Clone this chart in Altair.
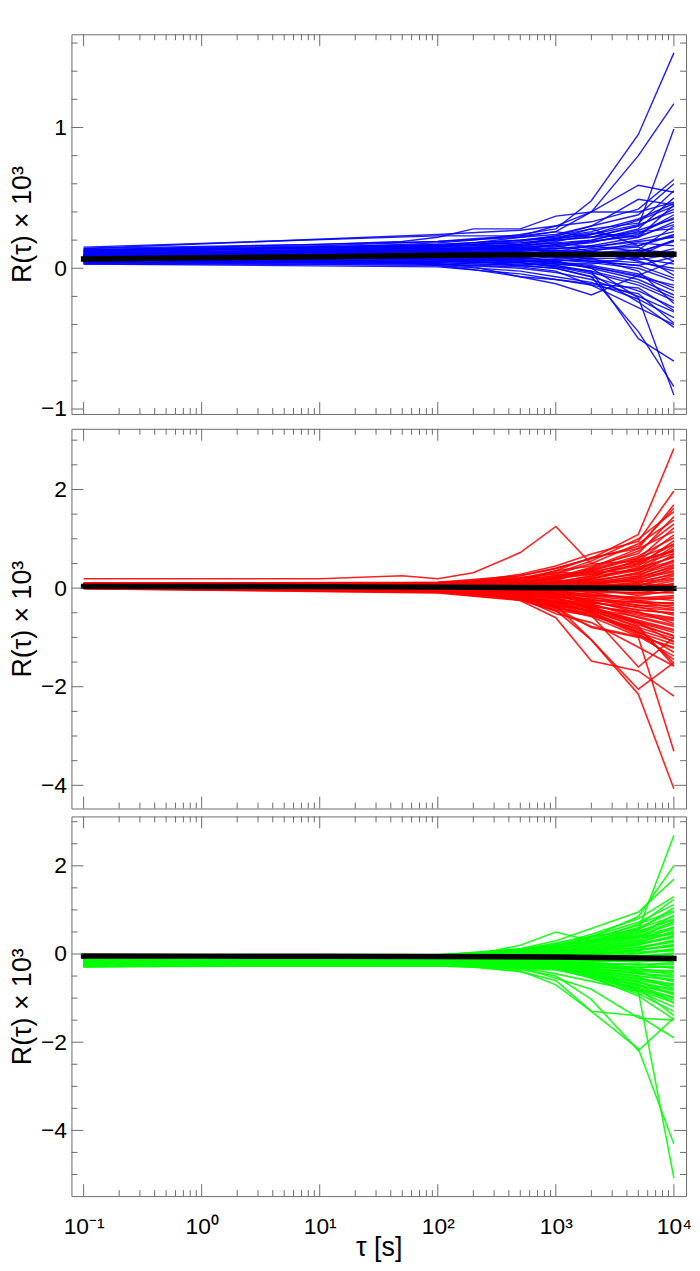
import altair as alt
import pandas as pd

# ---------------- data (units of 1e-3) ----------------
XF = [0.1, 10, 50, 100, 200, 500, 1000, 2000, 5000, 10000]      # grid of outlier lines
XC = [0.1, 100, 500, 1000, 2000, 5000, 10000]                    # grid of core lines
XM = [0.1, 1, 10, 100, 1000, 10000]                              # grid of mean lines

blue_core = [
    [0.14, 0.24, 0.27, 0.30, 0.33, 0.42, 0.63], [0.13, 0.19, 0.22, 0.24, 0.30, 0.38, 0.60],
    [0.12, 0.17, 0.20, 0.22, 0.26, 0.35, 0.46], [0.11, 0.16, 0.18, 0.20, 0.22, 0.30, 0.42],
    [0.10, 0.15, 0.17, 0.21, 0.25, 0.22, 0.33], [0.10, 0.14, 0.15, 0.16, 0.18, 0.26, 0.28],
    [0.09, 0.13, 0.16, 0.18, 0.15, 0.20, 0.26], [0.09, 0.12, 0.12, 0.14, 0.16, 0.12, 0.19],
    [0.08, 0.12, 0.14, 0.11, 0.12, 0.18, 0.16], [0.08, 0.11, 0.10, 0.12, 0.10, 0.08, 0.14],
    [0.07, 0.10, 0.11, 0.09, 0.13, 0.15, 0.05], [0.07, 0.10, 0.09, 0.10, 0.06, 0.04, 0.00],
    [0.06, 0.09, 0.10, 0.08, 0.09, 0.10, -0.05], [0.06, 0.08, 0.07, 0.06, 0.04, 0.00, -0.09],
    [0.05, 0.07, 0.06, 0.04, 0.02, -0.04, -0.14], [0.05, 0.06, 0.05, 0.05, 0.00, -0.08, -0.19],
    [0.04, 0.05, 0.03, 0.02, -0.03, -0.12, -0.23], [0.04, 0.04, 0.02, 0.00, -0.06, -0.16, -0.28],
    [0.03, 0.03, 0.00, -0.03, -0.08, -0.20, -0.31], [0.04, 0.02, -0.02, -0.06, -0.10, -0.22, -0.35],
    [0.05, 0.03, 0.01, -0.02, -0.12, -0.18, -0.39], [0.06, 0.05, 0.04, 0.01, -0.04, -0.24, -0.42],
    [0.11, 0.14, 0.13, 0.17, 0.20, 0.28, 0.50], [0.12, 0.15, 0.19, 0.23, 0.28, 0.32, 0.55],
    [0.08, 0.10, 0.13, 0.15, 0.19, 0.24, 0.38], [0.07, 0.09, 0.08, 0.11, 0.14, 0.16, 0.23],
    [0.09, 0.11, 0.12, 0.13, 0.11, 0.06, 0.10], [0.10, 0.12, 0.11, 0.08, 0.05, 0.02, 0.08],
    [0.06, 0.08, 0.09, 0.07, 0.08, 0.13, 0.30], [0.05, 0.06, 0.07, 0.10, 0.12, 0.05, -0.02],
    [0.07, 0.09, 0.06, 0.03, 0.01, -0.06, -0.12], [0.08, 0.10, 0.08, 0.05, 0.07, -0.02, -0.25],
    [0.13, 0.16, 0.16, 0.19, 0.24, 0.34, 0.44], [0.15, 0.23, 0.23, 0.26, 0.22, 0.25, 0.36],
    [0.03, 0.01, -0.04, -0.08, -0.11, -0.14, -0.30], [0.09, 0.12, 0.15, 0.12, 0.16, 0.22, 0.45],
    [0.11, 0.13, 0.14, 0.16, 0.12, 0.09, 0.20], [0.04, 0.04, 0.02, 0.04, 0.03, 0.08, 0.12],
    [0.12, 0.16, 0.18, 0.21, 0.24, 0.31, 0.40], [0.10, 0.13, 0.15, 0.17, 0.19, 0.23, 0.31],
    [0.09, 0.12, 0.13, 0.14, 0.15, 0.19, 0.22], [0.08, 0.11, 0.11, 0.12, 0.11, 0.13, 0.11],
    [0.07, 0.09, 0.09, 0.08, 0.07, 0.07, 0.03], [0.06, 0.08, 0.07, 0.06, 0.05, 0.02, -0.07],
    [0.05, 0.07, 0.05, 0.03, 0.01, -0.05, -0.16], [0.04, 0.05, 0.04, 0.01, -0.02, -0.10, -0.21],
    [0.10, 0.14, 0.16, 0.18, 0.20, 0.27, 0.35], [0.08, 0.10, 0.09, 0.10, 0.09, 0.11, 0.20],
]
blue_out = [
    [0.12, 0.15, 0.17, 0.18, 0.20, 0.24, 0.28, 0.48, 0.95, 1.53],
    [0.10, 0.13, 0.15, 0.16, 0.18, 0.22, 0.26, 0.40, 0.80, 1.17],
    [0.09, 0.12, 0.13, 0.14, 0.15, 0.17, 0.20, 0.22, 0.30, 0.99],
    [0.13, 0.16, 0.18, 0.19, 0.21, 0.23, 0.30, 0.40, 0.59, 0.54],
    [0.14, 0.17, 0.19, 0.22, 0.28, 0.28, 0.37, 0.40, 0.40, 0.47],
    [0.12, 0.15, 0.16, 0.17, 0.18, 0.20, 0.23, 0.30, 0.49, 0.45],
    [0.10, 0.13, 0.14, 0.15, 0.17, 0.20, 0.21, 0.28, 0.16, 0.24],
    [0.05, 0.05, 0.04, 0.03, 0.01, -0.06, -0.11, -0.19, -0.05, 0.05],
    [0.07, 0.08, 0.08, 0.07, 0.06, 0.04, 0.02, -0.02, -0.50, -0.66],
    [0.06, 0.07, 0.07, 0.06, 0.05, 0.02, 0.00, -0.06, -0.45, -0.84],
    [0.08, 0.09, 0.09, 0.08, 0.07, 0.06, 0.05, 0.00, -0.21, -0.90],
    [0.04, 0.05, 0.04, 0.02, -0.01, -0.06, -0.08, -0.12, -0.28, -0.40],
]
blue_mean = [0.066, 0.074, 0.082, 0.092, 0.097, 0.099]

red_core = [
    [0.10, 0.12, 0.25, 0.40, 0.60, 0.85, 1.62], [0.08, 0.10, 0.20, 0.30, 0.55, 1.00, 1.55],
    [0.06, 0.08, 0.15, 0.35, 0.45, 0.70, 1.45], [0.09, 0.11, 0.22, 0.28, 0.50, 0.90, 1.38],
    [0.05, 0.06, 0.12, 0.20, 0.40, 0.75, 1.30], [0.07, 0.09, 0.18, 0.25, 0.35, 0.60, 1.22],
    [0.04, 0.05, 0.10, 0.22, 0.42, 0.80, 1.15], [0.03, 0.04, 0.14, 0.18, 0.30, 0.55, 1.08],
    [0.06, 0.07, 0.08, 0.15, 0.38, 0.65, 1.02], [0.08, 0.09, 0.16, 0.32, 0.28, 0.45, 0.96],
    [0.02, 0.03, 0.06, 0.12, 0.25, 0.50, 0.90], [0.05, 0.06, 0.11, 0.10, 0.20, 0.40, 0.85],
    [0.07, 0.08, 0.13, 0.24, 0.32, 0.35, 0.80], [0.04, 0.05, 0.04, 0.08, 0.22, 0.58, 0.74],
    [0.03, 0.02, 0.09, 0.14, 0.15, 0.30, 0.68], [0.06, 0.07, 0.12, 0.06, 0.18, 0.42, 0.62],
    [0.09, 0.10, 0.07, 0.16, 0.10, 0.25, 0.57], [0.02, 0.03, 0.05, 0.04, 0.12, 0.32, 0.52],
    [0.05, 0.04, 0.08, 0.11, 0.08, 0.20, 0.46], [0.04, 0.03, 0.02, 0.09, 0.14, 0.15, 0.40],
    [0.03, 0.04, 0.06, 0.02, 0.05, 0.22, 0.35], [0.06, 0.05, 0.03, 0.07, 0.02, 0.10, 0.30],
    [0.01, 0.02, 0.04, 0.05, 0.09, 0.05, 0.25], [0.05, 0.06, 0.01, -0.02, 0.04, 0.12, 0.20],
    [0.04, 0.03, 0.05, 0.03, -0.03, 0.00, 0.15], [0.02, 0.01, 0.00, 0.01, 0.06, -0.05, 0.10],
    [0.03, 0.02, -0.02, -0.04, 0.00, 0.08, 0.05], [0.05, 0.04, 0.02, 0.00, -0.06, -0.10, 0.00],
    [0.04, 0.03, -0.01, -0.06, -0.02, -0.15, -0.05], [0.02, 0.01, -0.03, 0.00, -0.10, -0.08, -0.10],
    [0.03, 0.02, 0.01, -0.08, -0.12, -0.20, -0.15], [0.01, 0.00, -0.04, -0.03, -0.08, -0.25, -0.20],
    [0.04, 0.02, -0.05, -0.10, -0.15, -0.18, -0.25], [0.02, 0.00, -0.02, -0.05, -0.20, -0.30, -0.30],
    [0.03, 0.01, -0.06, -0.12, -0.18, -0.35, -0.35], [0.01, -0.01, -0.03, -0.09, -0.25, -0.28, -0.40],
    [0.00, -0.02, -0.07, -0.14, -0.22, -0.40, -0.45], [0.02, 0.00, -0.08, -0.11, -0.28, -0.45, -0.50],
    [0.01, -0.01, -0.05, -0.16, -0.30, -0.38, -0.55], [0.00, -0.03, -0.10, -0.18, -0.26, -0.50, -0.60],
    [0.02, -0.02, -0.09, -0.13, -0.34, -0.55, -0.66], [0.01, -0.04, -0.12, -0.20, -0.38, -0.48, -0.72],
    [0.00, -0.03, -0.11, -0.22, -0.32, -0.60, -0.78], [0.02, -0.05, -0.14, -0.25, -0.40, -0.65, -0.84],
    [0.01, -0.04, -0.13, -0.19, -0.44, -0.70, -0.90], [0.00, -0.06, -0.16, -0.28, -0.36, -0.75, -0.96],
    [0.01, -0.05, -0.15, -0.30, -0.46, -0.80, -1.02], [0.00, -0.07, -0.18, -0.26, -0.50, -0.85, -1.08],
    [0.02, -0.06, -0.20, -0.33, -0.48, -0.90, -1.14], [0.00, -0.08, -0.17, -0.35, -0.52, -0.95, -1.22],
    [0.01, -0.07, -0.22, -0.38, -0.55, -0.88, -1.30], [-0.01, -0.09, -0.24, -0.40, -0.58, -0.98, -1.38],
    [0.00, -0.08, -0.19, -0.42, -0.50, -0.92, -1.45], [-0.01, -0.10, -0.25, -0.45, -0.56, -0.82, -1.52],
    [0.01, -0.06, -0.21, -0.36, -0.45, -0.78, -1.58],
    [0.05, 0.06, 0.14, 0.26, 0.36, 0.62, 0.88], [0.03, 0.05, 0.09, 0.19, 0.33, 0.52, 0.78],
    [0.07, 0.06, 0.12, 0.21, 0.27, 0.48, 0.70], [0.04, 0.04, 0.07, 0.13, 0.24, 0.38, 0.64],
    [0.06, 0.05, 0.10, 0.08, 0.19, 0.36, 0.55], [0.02, 0.03, 0.03, 0.10, 0.16, 0.28, 0.48],
    [0.05, 0.04, 0.06, 0.05, 0.11, 0.24, 0.42], [0.03, 0.02, 0.04, 0.07, 0.07, 0.18, 0.33],
    [0.04, 0.03, 0.00, 0.03, 0.10, 0.14, 0.27], [0.02, 0.02, 0.02, -0.01, 0.03, 0.06, 0.18],
    [0.03, 0.01, -0.01, 0.02, -0.04, 0.02, 0.08], [0.01, 0.00, -0.04, -0.07, -0.05, -0.12, -0.08],
    [0.02, 0.01, -0.03, -0.05, -0.14, -0.22, -0.18], [0.01, -0.01, -0.06, -0.11, -0.16, -0.26, -0.32],
    [0.00, -0.02, -0.09, -0.15, -0.24, -0.35, -0.43], [0.02, -0.03, -0.08, -0.17, -0.29, -0.44, -0.52],
    [0.01, -0.04, -0.11, -0.21, -0.35, -0.52, -0.63], [0.00, -0.05, -0.13, -0.23, -0.42, -0.58, -0.75],
    [0.01, -0.06, -0.15, -0.27, -0.39, -0.68, -0.86], [0.00, -0.05, -0.17, -0.31, -0.47, -0.72, -0.98],
]
red_out = [
    [0.19, 0.19, 0.25, 0.19, 0.31, 0.72, 1.25, 0.49, 0.55, 0.75],
    [0.08, 0.08, 0.09, 0.10, 0.13, 0.25, 0.40, 0.60, 1.09, 2.83],
    [0.10, 0.10, 0.11, 0.12, 0.15, 0.28, 0.45, 0.69, 0.95, 1.97],
    [0.07, 0.07, 0.08, 0.09, 0.12, 0.20, 0.35, 0.62, 0.80, 1.69],
    [0.05, 0.04, 0.03, 0.00, -0.05, -0.20, -0.35, -1.05, -2.15, -4.07],
    [0.04, 0.03, 0.02, -0.02, -0.08, -0.25, -0.60, -1.48, -1.68, -2.19],
    [0.03, 0.02, 0.01, -0.01, -0.04, -0.15, -0.40, -0.80, -1.00, -3.31],
    [0.02, 0.02, 0.00, -0.03, -0.07, -0.22, -0.45, -1.05, -2.05, -1.51],
    [0.06, 0.05, 0.04, 0.02, -0.02, -0.12, -0.38, -0.55, -1.60, -1.00],
    [0.01, 0.00, -0.02, -0.04, -0.09, -0.20, -0.52, -0.70, -1.20, -1.58],
    [0.02, 0.01, 0.00, -0.03, -0.08, -0.22, -0.47, -0.78, -0.98, -1.20],
    [0.00, -0.05, -0.08, -0.06, -0.10, -0.18, -0.30, -0.42, -0.70, -1.10],
]
red_mean = [0.035, 0.032, 0.03, 0.02, 0.005, -0.005]

green_core = [
    [-0.06, -0.02, 0.10, 0.22, 0.45, 0.80, 1.30], [-0.08, -0.04, 0.05, 0.18, 0.35, 0.65, 1.24],
    [-0.10, -0.05, 0.08, 0.15, 0.40, 0.72, 1.12], [-0.07, -0.03, 0.12, 0.20, 0.28, 0.55, 1.05],
    [-0.12, -0.08, 0.02, 0.10, 0.30, 0.60, 0.95], [-0.09, -0.06, 0.06, 0.14, 0.22, 0.45, 0.88],
    [-0.11, -0.07, 0.00, 0.08, 0.25, 0.50, 0.80], [-0.14, -0.10, 0.04, 0.12, 0.18, 0.38, 0.74],
    [-0.08, -0.05, 0.03, 0.05, 0.20, 0.42, 0.68], [-0.13, -0.09, -0.02, 0.09, 0.12, 0.30, 0.62],
    [-0.15, -0.11, 0.01, 0.02, 0.15, 0.35, 0.57], [-0.10, -0.07, -0.03, 0.06, 0.08, 0.25, 0.52],
    [-0.16, -0.12, -0.04, 0.00, 0.10, 0.28, 0.47], [-0.12, -0.10, -0.01, -0.02, 0.05, 0.20, 0.42],
    [-0.18, -0.13, -0.06, 0.03, 0.02, 0.22, 0.37], [-0.14, -0.12, -0.05, -0.04, 0.00, 0.12, 0.32],
    [-0.20, -0.15, -0.08, -0.06, 0.04, 0.15, 0.27], [-0.16, -0.14, -0.07, -0.01, -0.04, 0.08, 0.22],
    [-0.22, -0.17, -0.10, -0.08, -0.02, 0.10, 0.17], [-0.18, -0.15, -0.09, -0.05, -0.08, 0.02, 0.12],
    [-0.24, -0.18, -0.12, -0.10, -0.06, 0.05, 0.07], [-0.20, -0.16, -0.11, -0.07, -0.12, -0.04, 0.02],
    [-0.26, -0.20, -0.14, -0.12, -0.10, -0.08, -0.03], [-0.22, -0.18, -0.13, -0.09, -0.15, -0.12, -0.08],
    [-0.27, -0.21, -0.16, -0.14, -0.13, -0.18, -0.13], [-0.24, -0.20, -0.15, -0.11, -0.18, -0.14, -0.18],
    [-0.28, -0.23, -0.17, -0.16, -0.20, -0.25, -0.23], [-0.25, -0.21, -0.18, -0.13, -0.22, -0.30, -0.28],
    [-0.27, -0.24, -0.19, -0.18, -0.25, -0.22, -0.33], [-0.26, -0.22, -0.20, -0.15, -0.28, -0.35, -0.38],
    [-0.28, -0.25, -0.21, -0.20, -0.24, -0.40, -0.43], [-0.25, -0.23, -0.22, -0.17, -0.30, -0.32, -0.48],
    [-0.27, -0.26, -0.23, -0.22, -0.33, -0.45, -0.53], [-0.24, -0.22, -0.24, -0.19, -0.36, -0.50, -0.58],
    [-0.28, -0.25, -0.25, -0.24, -0.31, -0.42, -0.63], [-0.26, -0.23, -0.22, -0.26, -0.38, -0.55, -0.68],
    [-0.25, -0.24, -0.26, -0.21, -0.40, -0.60, -0.73], [-0.27, -0.26, -0.27, -0.28, -0.35, -0.52, -0.78],
    [-0.24, -0.22, -0.28, -0.25, -0.42, -0.65, -0.83], [-0.26, -0.25, -0.24, -0.30, -0.45, -0.70, -0.88],
    [-0.28, -0.27, -0.29, -0.27, -0.48, -0.62, -0.93], [-0.25, -0.23, -0.27, -0.32, -0.44, -0.75, -0.98],
    [-0.27, -0.26, -0.30, -0.29, -0.50, -0.80, -1.05], [-0.26, -0.24, -0.26, -0.34, -0.52, -0.68, -1.12],
    [-0.28, -0.27, -0.31, -0.31, -0.47, -0.85, -1.20], [-0.25, -0.25, -0.28, -0.33, -0.55, -0.90, -1.30],
    [-0.27, -0.26, -0.32, -0.36, -0.50, -0.78, -1.40], [-0.26, -0.24, -0.29, -0.30, -0.53, -0.95, -1.48],
    [-0.07, -0.04, 0.07, 0.16, 0.32, 0.68, 0.98], [-0.09, -0.06, 0.04, 0.11, 0.26, 0.52, 0.77],
    [-0.10, -0.06, 0.06, 0.17, 0.30, 0.58, 0.85], [-0.12, -0.08, 0.03, 0.13, 0.24, 0.47, 0.72],
    [-0.14, -0.10, 0.01, 0.07, 0.17, 0.40, 0.60], [-0.16, -0.12, -0.02, 0.04, 0.13, 0.32, 0.50],
    [-0.18, -0.14, -0.05, 0.01, 0.07, 0.24, 0.40], [-0.20, -0.16, -0.07, -0.03, 0.03, 0.16, 0.30],
    [-0.22, -0.18, -0.09, -0.06, -0.01, 0.09, 0.20], [-0.24, -0.20, -0.12, -0.09, -0.07, 0.00, 0.10],
    [-0.25, -0.21, -0.14, -0.12, -0.11, -0.07, 0.00], [-0.26, -0.22, -0.16, -0.14, -0.16, -0.16, -0.10],
    [-0.27, -0.23, -0.18, -0.17, -0.21, -0.24, -0.20], [-0.28, -0.24, -0.20, -0.19, -0.26, -0.30, -0.30],
    [-0.26, -0.25, -0.21, -0.22, -0.29, -0.37, -0.40], [-0.27, -0.24, -0.23, -0.24, -0.33, -0.44, -0.50],
    [-0.25, -0.23, -0.24, -0.27, -0.37, -0.50, -0.60], [-0.28, -0.26, -0.25, -0.25, -0.41, -0.57, -0.70],
    [-0.26, -0.24, -0.26, -0.29, -0.43, -0.64, -0.80], [-0.27, -0.25, -0.28, -0.31, -0.46, -0.72, -0.90],
    [-0.25, -0.24, -0.27, -0.33, -0.49, -0.79, -1.00], [-0.28, -0.26, -0.30, -0.35, -0.54, -0.83, -1.10],
]
green_out = [
    [-0.10, -0.08, -0.06, -0.04, 0.00, 0.10, 0.25, 0.40, 0.55, 2.69],
    [-0.12, -0.10, -0.08, -0.06, -0.02, 0.08, 0.20, 0.38, 0.85, 2.00],
    [-0.08, -0.06, -0.04, -0.02, 0.02, 0.12, 0.30, 0.58, 0.95, 1.70],
    [-0.15, -0.12, -0.10, -0.08, -0.02, 0.20, 0.50, 0.30, 0.40, 0.45],
    [-0.22, -0.22, -0.23, -0.24, -0.28, -0.35, -0.50, -1.03, -2.19, -1.45],
    [-0.25, -0.25, -0.26, -0.27, -0.30, -0.40, -0.60, -1.30, -2.15, -4.31],
    [-0.20, -0.20, -0.21, -0.22, -0.25, -0.30, -0.45, -0.62, -0.85, -5.08],
    [-0.24, -0.24, -0.25, -0.26, -0.29, -0.38, -0.70, -1.30, -1.40, -1.90],
    [-0.18, -0.18, -0.19, -0.20, -0.24, -0.30, -0.55, -0.80, -1.45, -1.50],
]
green_mean = [-0.045, -0.048, -0.05, -0.055, -0.07, -0.10]

# axis ticks and labels
X_MAJOR = [0.1, 1, 10, 100, 1000, 10000]
X_MINOR = [round(m * 10 ** k, 6) for k in range(-1, 4) for m in range(2, 10)]
Y1_MAJOR = [-1, 0, 1]
Y1_MINOR = [-0.8, -0.6, -0.4, -0.2, 0.2, 0.4, 0.6, 0.8, 1.2, 1.4, 1.6]
Y2_MAJOR = [-4, -2, 0, 2]
Y2_MINOR = [-3.5, -3, -2.5, -1.5, -1, -0.5, 0.5, 1, 1.5, 2.5, 3]
Y3_MINOR = [-5, -4.5, -3.5, -3, -2.5, -1.5, -1, -0.5, 0.5, 1, 1.5, 2.5, 3]

# ---------------- chart ----------------
W, H = 620, 383
GRAY = "#6b6b6b"
FONT = "Liberation Sans"
XDOM = [10 ** -1.103, 10 ** 4.103]
MAJ, MIN = 12, 6


def lines_df(core, out):
    rows = []
    for i, vals in enumerate(core):
        for x, v in zip(XC, vals):
            rows.append((f"c{i:02d}", x, v))
    for i, vals in enumerate(out):
        for x, v in zip(XF, vals):
            rows.append((f"o{i:02d}", x, v))
    return pd.DataFrame(rows, columns=["line", "x", "y"])


XLABEL = ("datum.value < 0.5 ? '10⁻¹' : datum.value < 5 ? '10⁰' : datum.value < 50 ? '10¹' : "
          "datum.value < 500 ? '10²' : datum.value < 5000 ? '10³' : '10⁴'")
YLABEL = "datum.value < 0 ? '−' + (-datum.value) : '' + datum.value"


def panel(core, out, mean, color, ydom, ymaj, ymin, bottom, lw):
    xs = alt.Scale(type="log", domain=XDOM, nice=False)
    ys = alt.Scale(domain=ydom, nice=False, zero=False)
    if bottom:
        xaxis = alt.Axis(values=X_MAJOR, labelExpr=XLABEL, ticks=False, tickSize=0, domain=False,
                         grid=False, title="τ [s]", labelPadding=20, titlePadding=-4,
                         labelFontSize=23, titleFontSize=27)
    else:
        xaxis = alt.Axis(values=X_MAJOR, labels=False, ticks=False, tickSize=0, domain=False,
                         grid=False, title=None)
    yaxis = alt.Axis(values=ymaj, labelExpr=YLABEL, ticks=False, tickSize=0, domain=False, grid=False,
                     title="R(τ) × 10³", labelPadding=5, titlePadding=4,
                     labelFontSize=23, titleFontSize=27)
    spag = alt.Chart(lines_df(core, out)).mark_line(
        color=color, strokeWidth=lw, opacity=0.88, clip=True
    ).encode(
        x=alt.X("x:Q", scale=xs, axis=xaxis),
        y=alt.Y("y:Q", scale=ys, axis=yaxis),
        detail="line:N",
    )
    avg = alt.Chart(pd.DataFrame({"x": XM, "y": mean})).mark_line(
        color="black", strokeWidth=5.5, strokeCap="square"
    ).encode(x=alt.X("x:Q", scale=xs, axis=xaxis), y=alt.Y("y:Q", scale=ys, axis=yaxis))

    layers = [spag, avg]
    for vals, L in ((X_MAJOR, MAJ), (X_MINOR, MIN)):
        b = alt.Chart(pd.DataFrame({"t": vals})).mark_rule(color=GRAY, strokeWidth=1)
        xe = alt.X("t:Q", scale=xs, axis=xaxis)
        layers.append(b.encode(x=xe, y=alt.value(H), y2=alt.value(H - L)))
        layers.append(b.encode(x=xe, y=alt.value(0), y2=alt.value(L)))
    for vals, L in ((ymaj, MAJ), (ymin, MIN)):
        b = alt.Chart(pd.DataFrame({"t": vals})).mark_rule(color=GRAY, strokeWidth=1)
        ye = alt.Y("t:Q", scale=ys, axis=yaxis)
        layers.append(b.encode(y=ye, x=alt.value(0), x2=alt.value(L)))
        layers.append(b.encode(y=ye, x=alt.value(W), x2=alt.value(W - L)))
    return alt.layer(*layers).properties(width=W, height=H)


p1 = panel(blue_core, blue_out, blue_mean, "#0000ff", [-1.035, 1.662], Y1_MAJOR, Y1_MINOR, False, 1.4)
p2 = panel(red_core, red_out, red_mean, "#ff0000", [-4.47, 3.23], Y2_MAJOR, Y2_MINOR, False, 1.6)
p3 = panel(green_core, green_out, green_mean, "#00ff00", [-5.49, 3.12], Y2_MAJOR, Y3_MINOR, True, 1.6)

chart = alt.vconcat(p1, p2, p3, spacing=6).properties(
    padding={"left": 0, "top": 20, "right": 0, "bottom": 0}
).configure_view(stroke=GRAY, strokeWidth=1).configure_axis(
    labelFont=FONT, titleFont=FONT, labelColor="black", titleColor="black", titleFontWeight="normal"
)

chart.save("out.html", embed_options={"renderer": "svg", "actions": False})
